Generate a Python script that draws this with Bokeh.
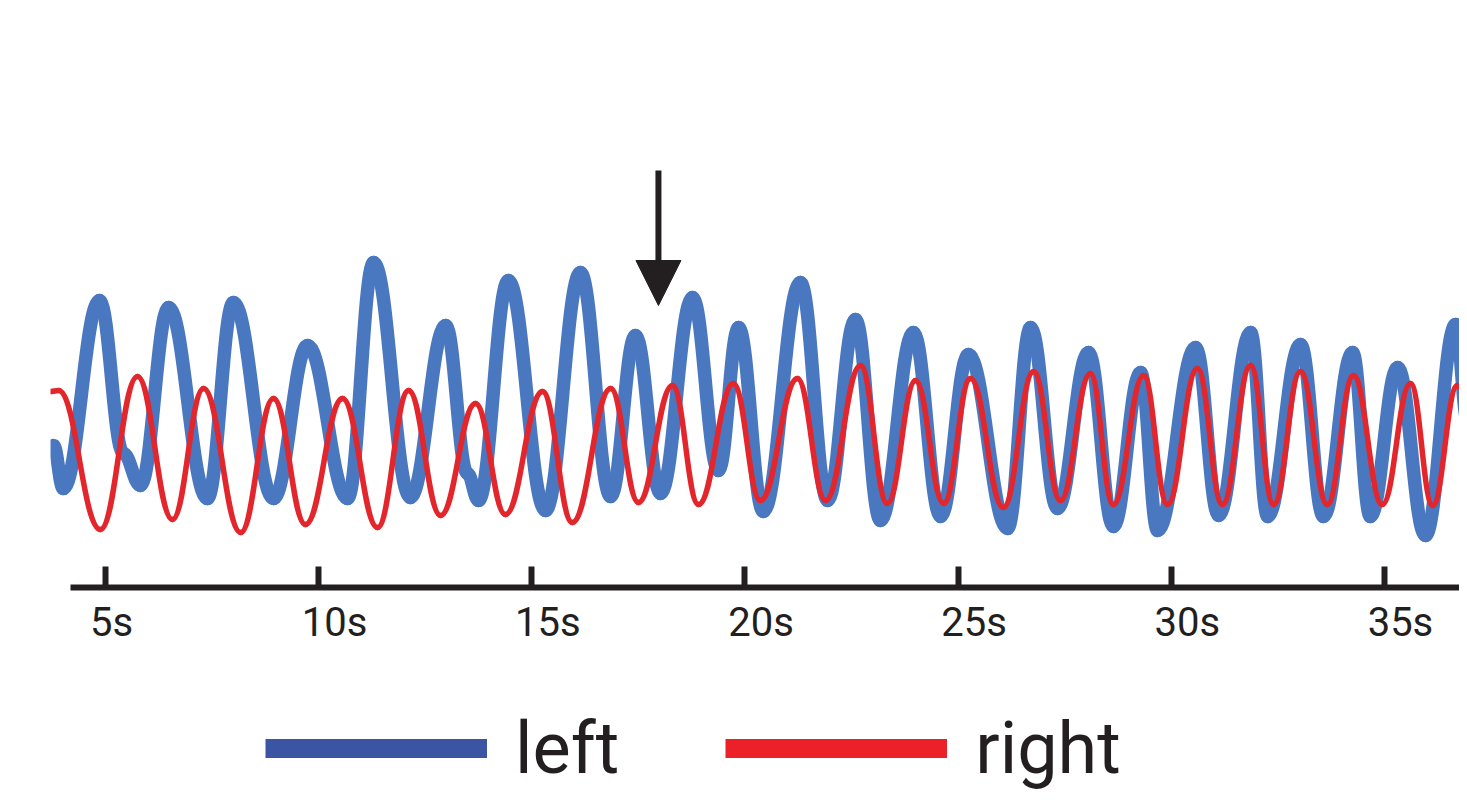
import numpy as np
from bokeh.plotting import figure
from bokeh.models import (ColumnDataSource, LinearAxis, FixedTicker, Range1d,
                          Arrow, NormalHead, Legend, LegendItem)
from bokeh.layouts import column
from bokeh.embed import file_html
from bokeh.resources import INLINE

# ---- data (time in s, signal in arbitrary units), extrema ----
left_t = [3.78, 4.01, 4.86, 5.42, 5.82, 6.48, 7.39, 8.00, 8.94, 9.74, 10.68, 11.29,
          12.15, 12.98, 13.49, 13.75, 14.45, 15.32, 16.14, 16.85, 17.43, 18.02, 18.77,
          19.38, 19.85, 20.43, 21.30, 21.94, 22.59, 23.18, 23.95, 24.59, 25.24, 26.16,
          26.70, 27.33, 28.06, 28.64, 29.28, 29.68, 30.57, 31.11, 31.86, 32.26, 33.03,
          33.57, 34.25, 34.67, 35.31, 35.96, 36.67, 36.95]
left_v = [14.2, 9.9, 28.7, 13.4, 10.2, 28.0, 8.9, 28.5, 8.9, 24.2, 8.9, 32.5,
          9.0, 26.2, 11.4, 8.7, 30.7, 7.7, 31.5, 9.1, 25.2, 9.4, 29.0,
          11.7, 26.0, 7.6, 30.5, 8.7, 26.8, 6.7, 25.5, 7.1, 23.3, 5.9,
          26.0, 7.9, 23.5, 6.1, 21.5, 5.7, 24.0, 7.2, 25.5, 7.1, 24.3,
          7.1, 23.5, 7.1, 22.0, 5.2, 26.3, 16.7]

right_t = [3.71, 3.90, 4.88, 5.75, 6.57, 7.30, 8.17, 8.94, 9.69, 10.56, 11.38, 12.11,
           12.86, 13.68, 14.38, 15.25, 15.95, 16.85, 17.50, 18.30, 18.91, 19.73, 20.36,
           21.23, 21.89, 22.71, 23.34, 24.00, 24.66, 25.29, 26.06, 26.77, 27.40, 28.10,
           28.64, 29.35, 29.91, 30.61, 31.20, 31.86, 32.40, 33.03, 33.66, 34.27, 34.95,
           35.61, 36.13, 36.71, 36.95]
right_v = [19.6, 19.7, 5.8, 21.1, 6.8, 19.9, 5.5, 18.9, 6.3, 18.9, 6.0, 19.7,
           7.2, 18.4, 7.3, 19.6, 6.5, 19.9, 8.5, 20.2, 8.3, 20.4, 8.7,
           20.9, 8.7, 22.2, 8.4, 20.7, 8.4, 20.9, 8.0, 21.6, 8.7, 21.4,
           8.3, 21.2, 8.3, 21.9, 8.3, 22.2, 8.3, 21.6, 8.3, 21.2, 8.3,
           20.4, 8.2, 20.2, 19.2]

tick_values = [5, 10, 15, 20, 25, 30, 35]
tick_labels = ["5s", "10s", "15s", "20s", "25s", "30s", "35s"]
series_names = ["left", "right"]

marker_time = 17.97
marker_top = 41.7
marker_tip = 28.2

# ---- view / style ----
X_START, X_END = 3.710, 36.76
Y_START, Y_END = 0.0, 57.9
AXIS_START = 4.18
PX_PER_S = 42.633
LABEL_SHIFT = 16 / PX_PER_S
NBSP = "\u00a0"

INK = "#231f20"
BLUE = "#4a78c0"
RED = "#e3262c"
BLUE_LEG = "#3b54a3"
RED_LEG = "#ec2029"
FONT = "Roboto"


def bezier_source(t, v, k):
    t = np.asarray(t, float)
    v = np.asarray(v, float)
    x0, x1 = t[:-1], t[1:]
    y0, y1 = v[:-1], v[1:]
    dx = x1 - x0
    return ColumnDataSource(dict(x0=x0, y0=y0, x1=x1, y1=y1,
                                 cx0=x0 + k * dx, cy0=y0,
                                 cx1=x1 - k * dx, cy1=y1))


p = figure(width=1459, height=662,
           x_range=Range1d(X_START, X_END), y_range=Range1d(Y_START, Y_END),
           x_axis_location=None, y_axis_location=None,
           toolbar_location=None, output_backend="svg",
           min_border_left=50, min_border_right=0,
           min_border_top=8, min_border_bottom=75)
p.outline_line_color = None
p.background_fill_color = "white"
p.border_fill_color = "white"
for g in p.grid:
    g.visible = False

p.bezier(x0="x0", y0="y0", x1="x1", y1="y1", cx0="cx0", cy0="cy0", cx1="cx1", cy1="cy1",
         source=bezier_source(left_t, left_v, 0.40),
         line_color=BLUE, line_width=13.5, line_cap="round")
p.bezier(x0="x0", y0="y0", x1="x1", y1="y1", cx0="cx0", cy0="cy0", cx1="cx1", cy1="cy1",
         source=bezier_source(right_t, right_v, 0.42),
         line_color=RED, line_width=5.5, line_cap="round")

# axis line + ticks
ax_line = LinearAxis(ticker=FixedTicker(ticks=tick_values),
                     bounds=(AXIS_START, X_END),
                     axis_line_width=6, axis_line_color=INK,
                     major_tick_in=21, major_tick_out=0,
                     major_tick_line_width=6, major_tick_line_color=INK,
                     minor_tick_in=0, minor_tick_out=0, minor_tick_line_color=None,
                     major_label_standoff=0,
                     major_label_overrides={v: "" for v in tick_values})
p.add_layout(ax_line, "below")

# tick labels: in the source they start just left of each tick
label_text = {v: (s + 2 * NBSP if len(s) == 2 else s) for v, s in zip(tick_values, tick_labels)}
p.extra_x_ranges = {"lbl": Range1d(X_START - LABEL_SHIFT, X_END - LABEL_SHIFT)}
ax_lbl = LinearAxis(x_range_name="lbl", ticker=FixedTicker(ticks=tick_values),
                    axis_line_color=None,
                    major_tick_in=0, major_tick_out=0, major_tick_line_color=None,
                    minor_tick_in=0, minor_tick_out=0, minor_tick_line_color=None,
                    major_label_standoff=11,
                    major_label_overrides=label_text,
                    major_label_text_font=FONT, major_label_text_font_size="40px",
                    major_label_text_color=INK)
p.add_layout(ax_lbl, "below")

p.add_layout(Arrow(end=NormalHead(size=45, fill_color=INK, line_color=INK, line_width=1),
                   x_start=marker_time, y_start=marker_top,
                   x_end=marker_time, y_end=marker_tip,
                   line_color=INK, line_width=6))

# legend strip
q = figure(width=1459, height=129, x_range=Range1d(0, 1), y_range=Range1d(0, 1),
           x_axis_location=None, y_axis_location=None,
           toolbar_location=None, output_backend="svg", min_border=0)
q.outline_line_color = None
for g in q.grid:
    g.visible = False
r_left = q.line(x=[np.nan], y=[np.nan], line_color=BLUE_LEG, line_width=19)
r_right = q.line(x=[np.nan], y=[np.nan], line_color=RED_LEG, line_width=19)
legend = Legend(items=[LegendItem(label=series_names[0], renderers=[r_left]),
                       LegendItem(label=series_names[1], renderers=[r_right])],
                location=(215, 0), orientation="horizontal",
                glyph_width=222, glyph_height=86, label_height=86,
                label_standoff=28, spacing=106, padding=0, margin=0,
                border_line_color=None, background_fill_alpha=0,
                label_text_font=FONT, label_text_font_size="72px",
                label_text_color=INK)
q.add_layout(legend)

layout = column(p, q)
open("out.html", "w").write(file_html(layout, INLINE))
